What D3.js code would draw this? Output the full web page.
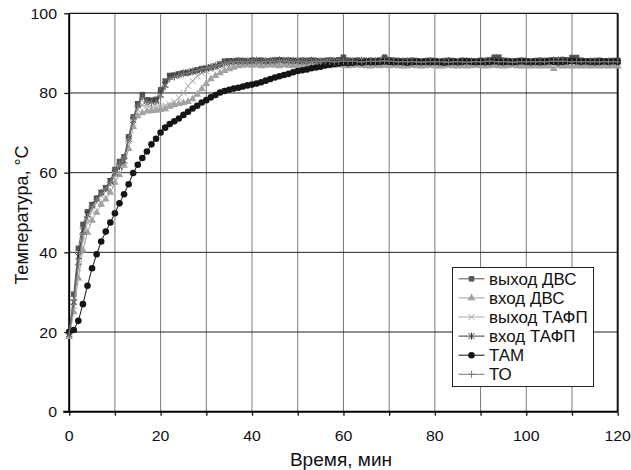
<!DOCTYPE html>
<html>
<head>
<meta charset="utf-8">
<script src="https://cdn.jsdelivr.net/npm/d3@7"></script>
<style>
  body { margin: 0; background: #fff; }
  text { font-family: "Liberation Sans", Arial, sans-serif; fill: #111; }
</style>
</head>
<body>
<svg width="631" height="470"></svg>
<script>
// time axis, one reading per minute
var minutes = d3.range(0, 121);

var xTicks = [0, 20, 40, 60, 80, 100, 120];
var yTicks = [0, 20, 40, 60, 80, 100];

var seriesNames = ["выход ДВС", "вход ДВС", "выход ТАФП", "вход ТАФП", "ТАМ", "ТО"];

var outEngine = [20, 29.5, 41, 47, 50.2, 52, 53.6, 55, 56.2, 58,
  60.8, 62.8, 64, 69, 74, 77.3, 79.6, 78.3, 78.2, 78.4,
  80.8, 83, 84.4, 84.5, 84.8, 85, 85.1, 85.4, 85.8, 86.1,
  86.2, 86.4, 86.7, 87.2, 88, 88.1, 88, 88.2, 88.1, 88,
  88.2, 88.1, 88.2, 88, 88.1, 88.2, 88.3, 88.1, 88.2, 88.1,
  88, 88.2, 88.1, 88.2, 88.1, 88, 88.1, 88.2, 88.1, 88.3,
  89, 88.2, 88.1, 88.2, 88, 88.1, 88.2, 88.1, 88.2, 89,
  88.3, 88.2, 88.1, 88, 88.1, 88.2, 88.1, 88, 88.1, 88.2,
  88.1, 88, 88.1, 88.2, 88.1, 88, 88.2, 88.1, 88, 88.1,
  88.2, 88.1, 88.3, 89, 89, 88.2, 88.1, 88, 88.1, 88.2,
  88.1, 88, 88.1, 88.2, 88.1, 88.2, 88.3, 88.2, 88.4, 88.3,
  88.9, 88.9, 88.2, 88.1, 88, 88.1, 88.2, 88.1, 88, 88.1, 88.2];

var inEngine = [18.8, 25, 33.5, 40.5, 45, 48, 50, 52, 53.3, 55,
  57.5, 59.5, 61.8, 66, 71.5, 74.2, 75, 75.4, 75.5, 75.6,
  75.8, 76, 76.6, 77, 77.3, 77.5, 77.8, 78.5, 79.6, 81,
  82.3, 83.5, 84.3, 85, 85.6, 86, 86.4, 86.8, 86.9, 87,
  86.9, 87, 86.8, 86.9, 87, 86.9, 86.8, 87, 86.9, 86.8,
  86.9, 87, 86.9, 86.8, 86.9, 87, 86.9, 86.8, 86.9, 87,
  86.9, 86.8, 86.9, 87, 86.9, 86.8, 86.7, 86.9, 86.8, 86.9,
  86.8, 86.9, 86.8, 86.7, 86.8, 86.9, 86.8, 86.7, 86.8, 86.9,
  86.8, 86.7, 86.8, 86.9, 86.8, 86.7, 86.8, 86.7, 86.8, 86.9,
  86.8, 86.7, 86.8, 86.9, 86.8, 86.7, 86.8, 86.9, 86.8, 86.7,
  86.8, 86.7, 86.8, 86.7, 86.8, 86.7, 86.1, 86.8, 86.7, 86.8,
  86.7, 86.8, 86.7, 86.8, 86.7, 86.8, 86.7, 86.8, 86.7, 86.8, 86.7];

var outExchanger = [19.5, 26.5, 36, 43, 47.5, 50.5, 52.5, 54.3, 55.5, 57,
  59.5, 61.5, 63, 68, 72.5, 75.8, 77, 76.8, 76.5, 76.3,
  76.6, 76.8, 77.2, 77.8, 78.8, 80, 81.8, 83, 84.2, 85,
  85.5, 86, 86.2, 86.6, 87, 87.3, 87.5, 87.7, 87.8, 87.7,
  87.8, 87.7, 87.6, 87.8, 87.7, 87.8, 87.9, 87.7, 87.8, 87.7,
  87.6, 87.7, 87.8, 87.7, 87.6, 87.7, 87.8, 87.7, 87.8, 87.7,
  87.6, 87.7, 87.6, 87.7, 87.8, 87.7, 87.6, 87.7, 87.6, 87.7,
  87.6, 87.5, 87.6, 87.7, 87.6, 87.5, 87.6, 87.7, 87.6, 87.5,
  87.6, 87.5, 87.6, 87.7, 87.6, 87.5, 87.6, 87.5, 87.6, 87.7,
  87.6, 87.5, 87.6, 87.5, 87.6, 87.7, 87.6, 87.5, 87.6, 87.5,
  87.6, 87.5, 87.4, 87.5, 87.6, 87.5, 87.4, 87.5, 87.6, 87.5,
  87.4, 87.5, 87.6, 87.5, 87.4, 87.5, 87.6, 87.5, 87.4, 87.5, 87.4];

var inExchanger = [19.5, 27.5, 39, 45.5, 49.5, 51.8, 53.4, 55, 56, 57.8,
  60, 61.5, 63, 68.5, 73.2, 77, 79.3, 78, 77.8, 78,
  79.6, 82, 84, 84.3, 84.6, 85, 85.2, 85.5, 85.6, 85.9,
  86.2, 86.5, 86.8, 87.2, 87.6, 87.8, 88, 88, 88.1, 88,
  88.1, 88.2, 88.1, 88, 88.1, 88.2, 88.3, 88.2, 88.1, 88.2,
  88.1, 88, 88.1, 88.2, 88.1, 88, 88.1, 88.2, 88.1, 88.2,
  88.3, 88.1, 88, 88.1, 88.2, 88.1, 88, 88.1, 88.2, 88.4,
  88.2, 88.1, 88, 88.1, 88, 88.1, 88, 87.9, 88, 88.1,
  88, 87.9, 88, 88.1, 88, 87.9, 88, 88.1, 88, 87.9,
  88, 88.1, 88.2, 88.3, 88.2, 88.1, 88, 87.9, 88, 88.1,
  88, 87.9, 88, 88.1, 88, 88.1, 88.2, 88.3, 88.2, 88.1,
  88.2, 88.1, 88, 87.9, 88, 88.1, 88, 87.9, 88, 88.1, 88];

var tam = [20, 20.5, 22.8, 27, 31.6, 36, 39.5, 42.7, 45.2, 47.5,
  49.8, 52.3, 54.6, 57.1, 59.9, 62, 63.7, 65.3, 67.1, 68.5,
  70.1, 71.3, 72.2, 72.9, 73.6, 74.5, 75.3, 76.1, 76.8, 77.6,
  78.2, 78.9, 79.5, 80.1, 80.5, 80.8, 81.1, 81.3, 81.6, 81.9,
  82.1, 82.4, 82.7, 83.1, 83.5, 83.9, 84.2, 84.5, 84.8, 85.2,
  85.5, 85.7, 85.9, 86.2, 86.4, 86.6, 86.9, 87.1, 87.3, 87.4,
  87.6, 87.5, 87.6, 87.7, 87.6, 87.8, 87.7, 87.7, 87.8, 87.9,
  87.8, 87.7, 87.8, 87.7, 87.6, 87.7, 87.8, 87.7, 87.8, 87.7,
  87.8, 87.7, 87.6, 87.7, 87.8, 87.7, 87.8, 87.9, 87.8, 87.7,
  87.8, 87.7, 87.8, 87.9, 87.8, 87.7, 87.8, 87.7, 87.8, 87.9,
  87.8, 87.7, 87.8, 87.7, 87.8, 87.9, 87.8, 87.7, 87.8, 87.9,
  88, 87.9, 87.8, 87.9, 87.8, 87.7, 87.8, 87.9, 87.8, 87.9, 87.8];

var toOil = [19.5, 28, 37, 44.5, 49, 51.5, 53.2, 54.8, 56, 57.5,
  60.2, 62, 63.5, 68.5, 73.5, 76.8, 78.8, 77.8, 77.5, 77.6,
  79, 81.5, 83.5, 84, 84.4, 84.8, 85, 85.3, 85.6, 86,
  86.2, 86.5, 86.8, 87.1, 87.5, 87.7, 87.8, 87.9, 87.8, 87.9,
  88, 87.9, 87.8, 87.9, 88, 87.9, 88, 88.1, 88, 87.9,
  88, 87.9, 87.8, 87.9, 88, 87.9, 88, 87.9, 87.8, 87.9,
  88, 87.9, 88, 87.9, 87.8, 87.9, 88, 87.9, 88, 88.1,
  88, 87.9, 87.8, 87.9, 87.8, 87.9, 87.8, 87.7, 87.8, 87.9,
  87.8, 87.9, 87.8, 87.7, 87.8, 87.9, 87.8, 87.7, 87.8, 87.9,
  87.8, 87.9, 88, 87.9, 87.8, 87.9, 87.8, 87.7, 87.8, 87.9,
  87.8, 87.9, 87.8, 87.9, 87.8, 87.9, 88, 87.9, 88, 87.9,
  87.8, 87.9, 87.8, 87.9, 87.8, 87.9, 87.8, 87.9, 87.8, 87.9, 87.8];

var allValues = [outEngine, inEngine, outExchanger, inExchanger, tam, toOil];
var markers = ["square", "triangle", "x", "star", "circle", "plus"];
var colors = ["#555555", "#a2a2a2", "#a8a8a8", "#3a3a3a", "#151515", "#7a7a7a"];

var svg = d3.select("svg");
var stretch = 1.06; // text in the picture is a bit wider than it is tall

var x = d3.scaleLinear().domain([0, 120]).range([69.2, 617.7]);
var y = d3.scaleLinear().domain([0, 100]).range([411.7, 13.3]);

// grid
svg.append("g")
  .selectAll("line")
  .data(d3.range(10, 120, 10))
  .enter()
  .append("line")
  .attr("x1", d => x(d)).attr("x2", d => x(d))
  .attr("y1", y(0)).attr("y2", y(100))
  .attr("stroke", "#7a7a7a")
  .attr("stroke-width", 1);

svg.append("g")
  .selectAll("line")
  .data([20, 40, 60, 80])
  .enter()
  .append("line")
  .attr("x1", x(0)).attr("x2", x(120))
  .attr("y1", d => y(d)).attr("y2", d => y(d))
  .attr("stroke", "#222")
  .attr("stroke-width", 1);

// frame
svg.append("line")
  .attr("x1", x(0)).attr("x2", x(120)).attr("y1", y(100)).attr("y2", y(100))
  .attr("stroke", "#111").attr("stroke-width", 1.3);
svg.append("line")
  .attr("x1", x(120)).attr("x2", x(120)).attr("y1", y(100)).attr("y2", y(0))
  .attr("stroke", "#111").attr("stroke-width", 2);

// axes
var xAxis = d3.axisBottom(x).tickValues(d3.range(0, 121, 10)).tickSize(4).tickFormat("");
var yAxis = d3.axisLeft(y).tickValues(yTicks).tickSize(5).tickFormat("");

svg.append("g").attr("transform", "translate(0," + y(0) + ")").call(xAxis)
  .call(g => g.select(".domain").attr("stroke-width", 2).attr("d", "M" + (x(0) - 6) + ",0H" + x(120)));
svg.append("g").attr("transform", "translate(" + x(0) + ",0)").call(yAxis)
  .call(g => g.select(".domain").attr("stroke-width", 2).attr("d", "M0," + y(0) + "V" + y(100)));
svg.selectAll(".tick line").attr("stroke", "#111").attr("stroke-width", 1.3);

// tick labels
svg.append("g")
  .selectAll("text")
  .data(xTicks)
  .enter()
  .append("text")
  .attr("transform", d => "translate(" + x(d) + ",440.5) scale(" + stretch + ",1)")
  .attr("text-anchor", "middle")
  .style("font-size", "15px")
  .text(d => d);

svg.append("g")
  .selectAll("text")
  .data(yTicks)
  .enter()
  .append("text")
  .attr("transform", d => "translate(57," + (y(d) + 5.5) + ") scale(" + stretch + ",1)")
  .attr("text-anchor", "end")
  .style("font-size", "15px")
  .text(d => d);

// axis titles
svg.append("text")
  .attr("transform", "translate(341,466) scale(" + stretch + ",1)")
  .attr("text-anchor", "middle")
  .style("font-size", "18px")
  .text("Время, мин");

svg.append("text")
  .attr("transform", "translate(28,215) rotate(-90)")
  .attr("text-anchor", "middle")
  .style("font-size", "18px")
  .text("Температура, °С");

function markerPath(type) {
  if (type === "square") return d3.symbol(d3.symbolSquare, 30)();
  if (type === "triangle") return d3.symbol(d3.symbolTriangle, 26)();
  if (type === "circle") return d3.symbol(d3.symbolCircle, 34)();
  var s = 3;
  var a = s + 0.5;
  if (type === "x") return "M" + (-s) + "," + (-s) + "L" + s + "," + s + "M" + (-s) + "," + s + "L" + s + "," + (-s);
  if (type === "star") return "M" + (-s) + "," + (-s) + "L" + s + "," + s + "M" + (-s) + "," + s + "L" + s + "," + (-s) + "M0," + (-a) + "L0," + a;
  return "M" + (-a) + ",0L" + a + ",0M0," + (-a) + "L0," + a;
}
function drawMarker(sel, type, color) {
  var filled = type === "square" || type === "triangle" || type === "circle";
  sel.attr("d", markerPath(type))
    .attr("fill", filled ? color : "none")
    .attr("stroke", filled ? "none" : color)
    .attr("stroke-width", 1);
}

var line = d3.line()
  .x((d, i) => x(minutes[i]))
  .y(d => y(d));

allValues.forEach(function(vals, k) {
  var g = svg.append("g");
  g.append("path")
    .datum(vals)
    .attr("d", line)
    .attr("fill", "none")
    .attr("stroke", colors[k])
    .attr("stroke-width", 1);
  g.selectAll("path.m")
    .data(vals)
    .enter()
    .append("path")
    .attr("class", "m")
    .attr("transform", (d, i) => "translate(" + x(minutes[i]) + "," + y(d) + ")")
    .call(drawMarker, markers[k], colors[k]);
});

// legend
var legend = svg.append("g").attr("transform", "translate(452.5,267.5)");
legend.append("rect")
  .attr("width", 141).attr("height", 119)
  .attr("fill", "#fff").attr("stroke", "#222").attr("stroke-width", 1);

var items = legend.selectAll("g.item")
  .data(seriesNames)
  .enter()
  .append("g")
  .attr("class", "item")
  .attr("transform", (d, i) => "translate(0," + (11.3 + i * 19.1) + ")");

items.append("line")
  .attr("x1", 6).attr("x2", 32)
  .attr("stroke", (d, i) => colors[i]).attr("stroke-width", 1);
items.append("path")
  .attr("transform", "translate(19,0)")
  .each(function(d, i) { d3.select(this).call(drawMarker, markers[i], colors[i]); });
items.append("text")
  .attr("transform", "translate(36.5,5.8) scale(" + stretch + ",1)")
  .style("font-size", "16px")
  .text(d => d);
</script>
</body>
</html>
